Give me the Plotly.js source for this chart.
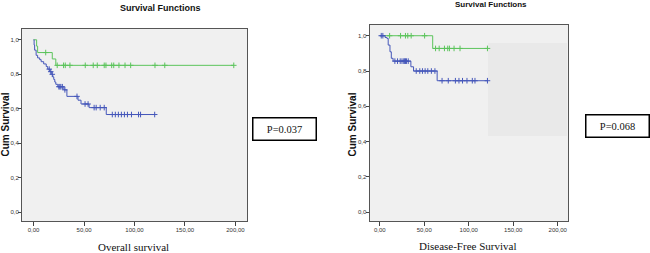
<!DOCTYPE html>
<html><head><meta charset="utf-8">
<script src="https://cdn.plot.ly/plotly-3.0.1.min.js"></script>
<style>html,body{margin:0;padding:0;background:#fff}#c{width:650px;height:253px}</style>
</head><body><div id="c"></div>
<script>
// Overall survival (left)
const osGreenT = [0, 3, 4, 18.5, 22, 198.4];
const osGreenS = [1.0, 0.963, 0.926, 0.889, 0.852, 0.852];
const osGreenCensT = [12, 23.4, 29.7, 31.4, 36, 51.2, 59.1, 63.1, 70, 71.7, 77.4, 79.4, 84.6, 90.6, 96.2, 120.3, 130, 198.4];
const osGreenCensS = [0.926, 0.852, 0.852, 0.852, 0.852, 0.852, 0.852, 0.852, 0.852, 0.852, 0.852, 0.852, 0.852, 0.852, 0.852, 0.852, 0.852, 0.852];
const osBlueT = [0, 0.5, 1, 2.5, 4, 6, 7.5, 10, 12.5, 14, 16, 18, 19, 20, 21, 22, 24, 30, 33, 44, 47, 55, 72, 120];
const osBlueS = [1.0, 0.97, 0.94, 0.91, 0.895, 0.885, 0.873, 0.86, 0.845, 0.83, 0.815, 0.80, 0.785, 0.77, 0.755, 0.742, 0.728, 0.71, 0.672, 0.65, 0.628, 0.607, 0.567, 0.567];
const osBlueCensT = [15.5, 17, 18.5, 25, 26, 27, 28.5, 31, 43, 51, 54, 60, 62, 66, 70, 78, 81, 84, 87, 90, 93, 97, 104, 106, 120];
const osBlueCensS = [0.83, 0.815, 0.80, 0.728, 0.728, 0.728, 0.728, 0.71, 0.672, 0.628, 0.628, 0.607, 0.607, 0.607, 0.607, 0.567, 0.567, 0.567, 0.567, 0.567, 0.567, 0.567, 0.567, 0.567, 0.567];

// Disease-free survival (right)
const dfsGreenT = [0, 59.5, 121];
const dfsGreenS = [1.0, 0.928, 0.928];
const dfsGreenCensT = [11.1, 23.4, 28.9, 31.5, 35.3, 50.4, 62.7, 66.8, 72.7, 76.4, 78.3, 83.5, 90.2, 121];
const dfsGreenCensS = [1, 1, 1, 1, 1, 1, 0.928, 0.928, 0.928, 0.928, 0.928, 0.928, 0.928, 0.928];
const dfsBlueT = [0, 6, 8, 9.5, 11.5, 13, 15, 35, 38, 64.5, 121];
const dfsBlueS = [1.0, 0.99, 0.985, 0.947, 0.909, 0.872, 0.856, 0.824, 0.80, 0.745, 0.745];
const dfsBlueCensT = [1.7, 3.5, 17, 20, 23, 25, 27, 28, 29, 30, 32, 41, 45, 48, 51, 54, 58, 62, 70, 77, 85, 89, 93, 98, 104, 107, 121];
const dfsBlueCensS = [1, 1, 0.856, 0.856, 0.856, 0.856, 0.856, 0.856, 0.856, 0.856, 0.856, 0.80, 0.80, 0.80, 0.80, 0.80, 0.80, 0.80, 0.745, 0.745, 0.745, 0.745, 0.745, 0.745, 0.745, 0.745, 0.745];

const xTickVals = [0, 50, 100, 150, 200];
const xTickText = ['0,00', '50,00', '100,00', '150,00', '200,00'];
const yTickVals = [0, 0.2, 0.4, 0.6, 0.8, 1.0];
const yTickText = ['0,0', '0,2', '0,4', '0,6', '0,8', '1,0'];

const GREEN = '#5cc45c', BLUE = '#4557ba';

function stepTrace(x, y, col, xa, ya) {
  return {x: x, y: y, mode: 'lines', line: {shape: 'hv', color: col, width: 1}, xaxis: xa, yaxis: ya, hoverinfo: 'skip'};
}
function censTrace(x, y, col, xa, ya) {
  return {x: x, y: y, mode: 'markers', marker: {symbol: 'cross-thin-open', size: 4, line: {color: col, width: 1}, color: col}, xaxis: xa, yaxis: ya, hoverinfo: 'skip'};
}

const data = [
  stepTrace(osGreenT, osGreenS, GREEN, 'x', 'y'),
  censTrace(osGreenCensT, osGreenCensS, GREEN, 'x', 'y'),
  stepTrace(osBlueT, osBlueS, BLUE, 'x', 'y'),
  censTrace(osBlueCensT, osBlueCensS, BLUE, 'x', 'y'),
  stepTrace(dfsGreenT, dfsGreenS, GREEN, 'x2', 'y2'),
  censTrace(dfsGreenCensT, dfsGreenCensS, GREEN, 'x2', 'y2'),
  stepTrace(dfsBlueT, dfsBlueS, BLUE, 'x2', 'y2'),
  censTrace(dfsBlueCensT, dfsBlueCensS, BLUE, 'x2', 'y2')
];

const tickFont = {family: 'Arial, Liberation Sans', size: 6, color: '#333'};
function xAx(dom, anchor) {
  return {domain: dom, anchor: anchor, range: [-11.5, 211.5], tickvals: xTickVals, ticktext: xTickText,
    ticks: 'outside', ticklen: 4, tickcolor: '#444', tickfont: tickFont, ticklabelstandoff: -1,
    showgrid: false, zeroline: false,
    showline: true, linecolor: '#555', linewidth: 1, mirror: true, fixedrange: true};
}
function yAx(dom, anchor) {
  return {domain: dom, anchor: anchor, range: [-0.05, 1.0625], tickvals: yTickVals, ticktext: yTickText,
    ticks: 'outside', ticklen: 3, tickcolor: '#444', tickfont: tickFont, ticklabelstandoff: -2,
    showgrid: false, zeroline: false,
    showline: true, linecolor: '#555', linewidth: 1, mirror: true, fixedrange: true};
}

const W = 650, H = 253;
const px = v => v / W, py = v => 1 - v / H;

function note(text, x, y, font, extra) {
  return Object.assign({text: text, x: px(x), y: py(y), xref: 'paper', yref: 'paper', showarrow: false,
    xanchor: 'center', yanchor: 'middle', font: font}, extra || {});
}
const sansB = s => ({family: 'Arial, Liberation Sans', size: s, color: '#111'});
const serif = s => ({family: 'Liberation Serif, Times New Roman', size: s, color: '#111'});

const layout = {
  width: W, height: H, margin: {l: 0, r: 0, t: 0, b: 0},
  paper_bgcolor: '#fff', plot_bgcolor: '#f0f0f0', showlegend: false,
  xaxis: xAx([px(22), px(247)], 'y'),
  yaxis: yAx([py(221), py(29)], 'x'),
  xaxis2: xAx([px(369.5), px(568)], 'y2'),
  yaxis2: yAx([py(221), py(24.7)], 'x2'),
  shapes: [
    {type: 'rect', xref: 'paper', yref: 'paper', x0: px(488), x1: px(567), y0: py(136), y1: py(43),
     fillcolor: '#e9e9e9', line: {width: 0}, layer: 'below'}
  ],
  annotations: [
    note('<b>Survival Functions</b>', 160, 8, sansB(9)),
    note('<b>Survival Functions</b>', 491, 5, sansB(8)),
    note('<b>Cum Survival</b>', 4.5, 125, sansB(10), {textangle: -90}),
    note('<b>Cum Survival</b>', 352, 124.5, sansB(10), {textangle: -90}),
    note('Overall survival', 133, 246.5, serif(11)),
    note('Disease-Free Survival', 467, 246, serif(11)),
    note('P=0.037', 284, 128.5, serif(10.5), {width: 60, height: 19, borderpad: 1, bordercolor: '#000', borderwidth: 1.5, bgcolor: '#fff'}),
    note('P=0.068', 617, 125.8, serif(10.5), {width: 60, height: 19, borderpad: 1, bordercolor: '#000', borderwidth: 1.5, bgcolor: '#fff'})
  ]
};

Plotly.newPlot('c', data, layout, {staticPlot: true, displayModeBar: false});
</script></body></html>
